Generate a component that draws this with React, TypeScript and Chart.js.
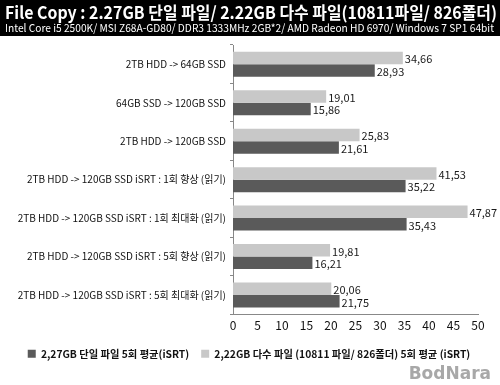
import React, { useEffect, useRef } from "react";
import { Chart, registerables } from "chart.js";

Chart.register(...registerables);

const titleText = "File Copy : 2.27GB 단일 파일/ 2.22GB 다수 파일(10811파일/ 826폴더)";
const subtitleText = "Intel Core i5 2500K/ MSI Z68A-GD80/ DDR3 1333MHz 2GB*2/ AMD Radeon HD 6970/ Windows 7 SP1 64bit";
const watermarkText = "BodNara";

const categories = [
  "2TB HDD -> 64GB SSD",
  "64GB SSD -> 120GB SSD",
  "2TB HDD -> 120GB SSD",
  "2TB HDD -> 120GB SSD iSRT : 1회 향상 (읽기)",
  "2TB HDD -> 120GB SSD iSRT : 1회 최대화 (읽기)",
  "2TB HDD -> 120GB SSD iSRT : 5회 향상 (읽기)",
  "2TB HDD -> 120GB SSD iSRT : 5회 최대화 (읽기)",
];

const singleLabel = "2,27GB 단일 파일 5회 평균(iSRT)";
const multiLabel = "2,22GB 다수 파일 (10811 파일/ 826폴더) 5회 평균 (iSRT)";

const singleValues = [28.93, 15.86, 21.61, 35.22, 35.43, 16.21, 21.75];
const multiValues = [34.66, 19.01, 25.83, 41.53, 47.87, 19.81, 20.06];

const xTicks = [0, 5, 10, 15, 20, 25, 30, 35, 40, 45, 50];

const FONT = '"Noto Sans CJK KR", "Noto Sans", sans-serif';

const decorPlugin = {
  id: "decor",
  afterLayout(chart: any) {
    const lg = chart.legend;
    if (lg) {
      lg.left += 10;
      lg.right += 10;
    }
  },
  beforeDraw(chart: any) {
    const ctx = chart.ctx;
    ctx.save();
    ctx.fillStyle = "#ffffff";
    ctx.fillRect(0, 0, chart.width, chart.height);
    ctx.fillStyle = "#000000";
    ctx.fillRect(0, 0, chart.width, 36);
    ctx.fillStyle = "#ffffff";
    ctx.textBaseline = "middle";
    ctx.textAlign = "left";
    ctx.font = `bold 17px ${FONT}`;
    ctx.fillText(titleText, 5, 13, 492);
    ctx.font = `11px ${FONT}`;
    ctx.fillText(subtitleText, 5, 28, 489);
    ctx.restore();
  },
  afterDraw(chart: any) {
    const ctx = chart.ctx;
    ctx.save();
    ctx.fillStyle = "#a8a8a8";
    ctx.textAlign = "right";
    ctx.textBaseline = "middle";
    ctx.font = `bold 17px "DejaVu Sans", sans-serif`;
    ctx.fillText(watermarkText, 491, 375);
    ctx.restore();
  },
};

const valueLabelPlugin = {
  id: "valueLabels",
  afterDatasetsDraw(chart: any) {
    const ctx = chart.ctx;
    ctx.save();
    ctx.fillStyle = "#1a1a1a";
    ctx.font = `11px ${FONT}`;
    ctx.textAlign = "left";
    ctx.textBaseline = "middle";
    chart.data.datasets.forEach((ds: any, di: number) => {
      const meta = chart.getDatasetMeta(di);
      meta.data.forEach((bar: any, i: number) => {
        const v = ds.data[i] as number;
        ctx.fillText(v.toFixed(2).replace(".", ","), bar.x + 2, bar.y + 1);
      });
    });
    ctx.restore();
  },
};

export default function App() {
  const ref = useRef<HTMLCanvasElement>(null);
  useEffect(() => {
    document.body.style.margin = "0";
    const chart = new Chart(ref.current!, {
      type: "bar",
      data: {
        labels: categories,
        datasets: [
          {
            label: multiLabel,
            data: multiValues,
            backgroundColor: "#c8c8c8",
            categoryPercentage: 0.65,
            barPercentage: 1.0,
          },
          {
            label: singleLabel,
            data: singleValues,
            backgroundColor: "#5a5a5a",
            categoryPercentage: 0.65,
            barPercentage: 1.0,
          },
        ],
      },
      options: {
        indexAxis: "y",
        responsive: false,
        animation: false,
        layout: { padding: { top: 45, right: 22, bottom: 16, left: 0 } },
        plugins: {
          legend: {
            position: "bottom",
            reverse: true,
            labels: {
              boxWidth: 8,
              boxHeight: 8,
              color: "#111",
              font: { family: FONT, size: 10.3, weight: "bold" },
              padding: 12,
            },
          },
          tooltip: { enabled: false },
        },
        scales: {
          x: {
            min: 0,
            max: 50,
            afterBuildTicks(scale: any) {
              scale.ticks = xTicks.map((v) => ({ value: v }));
            },
            grid: { display: false, drawTicks: false },
            border: { display: true, color: "#888" },
            ticks: {
              color: "#111",
              padding: 4,
              font: { family: FONT, size: 12 },
            },
          },
          y: {
            afterFit(scale: any) {
              scale.width = 233;
            },
            grid: {
              display: true,
              drawOnChartArea: false,
              drawTicks: true,
              tickLength: 3,
              offset: true,
              color: "#888",
            },
            border: { display: true, color: "#888" },
            ticks: {
              color: "#111",
              padding: 4,
              font: { family: FONT, size: 10 },
            },
          },
        },
      },
      plugins: [decorPlugin, valueLabelPlugin],
    });
    return () => chart.destroy();
  }, []);
  return <canvas ref={ref} width={500} height={385} />;
}
